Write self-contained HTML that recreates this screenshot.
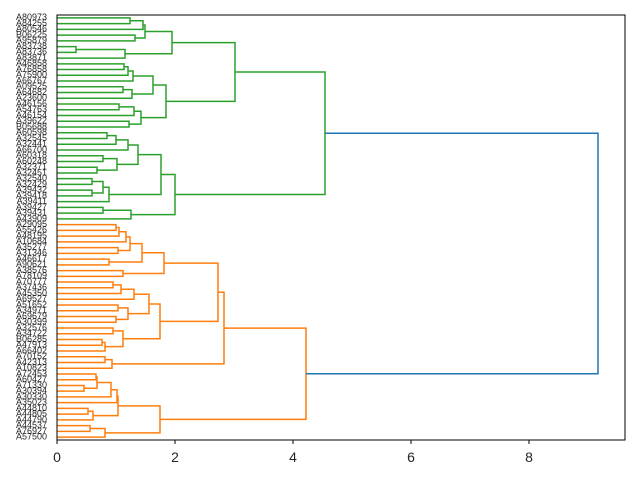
<!DOCTYPE html>
<html><head><meta charset="utf-8"><style>
html,body{margin:0;padding:0;background:#fff;}
svg{display:block;}
text{font-family:"Liberation Sans",sans-serif;fill:#262626;}
</style></head><body>
<svg width="640" height="480" viewBox="0 0 640 480" xmlns="http://www.w3.org/2000/svg">
<rect width="640" height="480" fill="#fff"/>
<g fill="none" stroke="#2ca02c" stroke-width="1.5">
<path d="M57 17.87H130V23.61H57"/>
<path d="M130 20.74H143V29.36H57"/>
<path d="M57 35.10H135V40.84H57"/>
<path d="M143 25.05H145V37.97H135"/>
<path d="M57 46.59H76V52.33H57"/>
<path d="M76 49.46H125V58.07H57"/>
<path d="M145 31.51H172V53.77H125"/>
<path d="M57 63.82H124V69.56H57"/>
<path d="M124 66.69H128V75.30H57"/>
<path d="M128 71.0H133V81.05H57"/>
<path d="M57 86.79H123V92.53H57"/>
<path d="M123 89.66H132V98.28H57"/>
<path d="M133 76.02H153V93.97H132"/>
<path d="M57 104.02H119V109.76H57"/>
<path d="M119 106.89H134V115.50H57"/>
<path d="M57 121.25H129V126.99H57"/>
<path d="M134 111.2H141V124.12H129"/>
<path d="M153 85.0H166V117.66H141"/>
<path d="M172 42.64H235V101.33H166"/>
<path d="M57 132.73H107V138.48H57"/>
<path d="M107 135.6H116V144.22H57"/>
<path d="M116 139.91H128V149.96H57"/>
<path d="M57 155.71H103V161.45H57"/>
<path d="M57 167.19H97V172.94H57"/>
<path d="M103 158.58H117V170.07H97"/>
<path d="M128 144.94H138V164.32H117"/>
<path d="M57 178.68H92V184.42H57"/>
<path d="M57 190.17H92V195.91H57"/>
<path d="M92 181.55H103V193.04H92"/>
<path d="M103 187.3H109V201.65H57"/>
<path d="M138 154.63H161V194.47H109"/>
<path d="M57 207.40H103V213.14H57"/>
<path d="M103 210.27H131V218.88H57"/>
<path d="M161 174.55H175V214.58H131"/>
<path d="M235 71.98H325V194.56H175"/>
</g>
<g fill="none" stroke="#ff7f0e" stroke-width="1.5">
<path d="M57 224.63H116V230.37H57"/>
<path d="M116 227.5H119V236.11H57"/>
<path d="M119 231.8H126V241.86H57"/>
<path d="M57 247.60H118V253.34H57"/>
<path d="M126 236.83H130V250.47H118"/>
<path d="M57 259.09H109V264.83H57"/>
<path d="M130 243.65H142V261.96H109"/>
<path d="M57 270.57H123V276.32H57"/>
<path d="M142 252.8H164V273.45H123"/>
<path d="M57 282.06H113V287.80H57"/>
<path d="M113 284.93H121V293.55H57"/>
<path d="M121 289.24H134V299.29H57"/>
<path d="M57 305.03H118V310.77H57"/>
<path d="M57 316.52H116V322.26H57"/>
<path d="M118 307.9H128V319.39H116"/>
<path d="M134 294.27H149V313.65H128"/>
<path d="M57 328.00H113V333.75H57"/>
<path d="M57 339.49H102V345.23H57"/>
<path d="M102 342.36H105V350.98H57"/>
<path d="M113 330.88H123V346.67H105"/>
<path d="M149 303.96H160V338.77H123"/>
<path d="M164 263.12H218V321.37H160"/>
<path d="M57 356.72H105V362.46H57"/>
<path d="M105 359.59H112V368.21H57"/>
<path d="M218 292.25H224V363.9H112"/>
<path d="M57 373.95H96V379.69H57"/>
<path d="M57 385.44H84V391.18H57"/>
<path d="M96 376.82H97V388.31H84"/>
<path d="M97 382.56H111V396.92H57"/>
<path d="M111 389.74H117V402.67H57"/>
<path d="M57 408.41H88V414.15H57"/>
<path d="M88 411.28H93V419.90H57"/>
<path d="M117 396.2H118V415.59H93"/>
<path d="M57 425.64H90V431.38H57"/>
<path d="M90 428.51H105V437.13H57"/>
<path d="M118 405.9H160V432.82H105"/>
<path d="M224 328.07H306V419.36H160"/>
</g>
<path d="M325 133.27H598V373.7H306" fill="none" stroke="#1f77b4" stroke-width="1.5"/>
<rect x="57" y="15" width="568" height="425" fill="none" stroke="#000" stroke-width="1"/>
<g stroke="#000" stroke-width="1">
<path d="M57 440v4M175 440v4M293 440v4M411 440v4M529 440v4"/>
</g>
<g font-size="14" text-anchor="middle">
<text x="57" y="462">0</text><text x="175" y="462">2</text><text x="293" y="462">4</text><text x="411" y="462">6</text><text x="529" y="462">8</text>
</g>
<g font-size="9" text-anchor="end" dominant-baseline="middle">
<text x="47" y="17.87">A80973</text><text x="47" y="23.61">A84255</text><text x="47" y="29.36">A80546</text><text x="47" y="35.10">B06225</text><text x="47" y="40.84">A95879</text><text x="47" y="46.59">A83738</text><text x="47" y="52.33">A83736</text><text x="47" y="58.07">A83871</text><text x="47" y="63.82">A46858</text><text x="47" y="69.56">A76858</text><text x="47" y="75.30">A75900</text><text x="47" y="81.05">A66767</text><text x="47" y="86.79">A09525</text><text x="47" y="92.53">A64682</text><text x="47" y="98.28">A23600</text><text x="47" y="104.02">A46156</text><text x="47" y="109.76">A54763</text><text x="47" y="115.50">A46154</text><text x="47" y="121.25">A39622</text><text x="47" y="126.99">B05688</text><text x="47" y="132.73">A60598</text><text x="47" y="138.48">A32545</text><text x="47" y="144.22">A32441</text><text x="47" y="149.96">A66700</text><text x="47" y="155.71">A60318</text><text x="47" y="161.45">A60248</text><text x="47" y="167.19">A32371</text><text x="47" y="172.94">A32451</text><text x="47" y="178.68">A32540</text><text x="47" y="184.42">A32429</text><text x="47" y="190.17">A39432</text><text x="47" y="195.91">A39418</text><text x="47" y="201.65">A39411</text><text x="47" y="207.40">A39427</text><text x="47" y="213.14">A39431</text><text x="47" y="218.88">A43909</text><text x="47" y="224.63">A29095</text><text x="47" y="230.37">A55426</text><text x="47" y="236.11">A48195</text><text x="47" y="241.86">A10684</text><text x="47" y="247.60">A35277</text><text x="47" y="253.34">A31346</text><text x="47" y="259.09">A46617</text><text x="47" y="264.83">A90621</text><text x="47" y="270.57">A38576</text><text x="47" y="276.32">A78109</text><text x="47" y="282.06">A70777</text><text x="47" y="287.80">A37436</text><text x="47" y="293.55">A45350</text><text x="47" y="299.29">A69527</text><text x="47" y="305.03">A51652</text><text x="47" y="310.77">A34971</text><text x="47" y="316.52">A69679</text><text x="47" y="322.26">A30399</text><text x="47" y="328.00">A32576</text><text x="47" y="333.75">A34722</text><text x="47" y="339.49">B06285</text><text x="47" y="345.23">A47913</text><text x="47" y="350.98">A66402</text><text x="47" y="356.72">A70152</text><text x="47" y="362.46">A42313</text><text x="47" y="368.21">A10823</text><text x="47" y="373.95">A72453</text><text x="47" y="379.69">A60427</text><text x="47" y="385.44">A71330</text><text x="47" y="391.18">A30394</text><text x="47" y="396.92">A30330</text><text x="47" y="402.67">A35023</text><text x="47" y="408.41">A44810</text><text x="47" y="414.15">A44805</text><text x="47" y="419.90">A44790</text><text x="47" y="425.64">A44537</text><text x="47" y="431.38">A76927</text><text x="47" y="437.13">A57500</text>
</g>
</svg>
</body></html>
